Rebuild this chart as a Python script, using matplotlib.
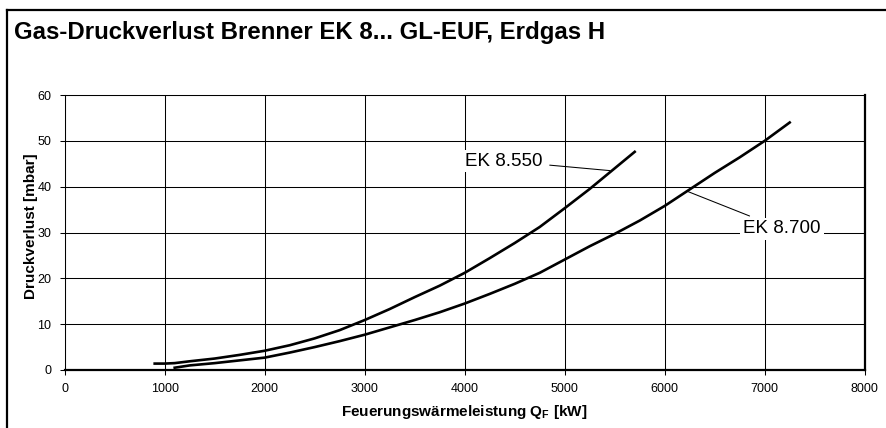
import matplotlib
matplotlib.use('Agg')
import matplotlib.pyplot as plt
from matplotlib.lines import Line2D

plt.rcParams['font.family'] = ['Liberation Sans', 'DejaVu Sans']

# Feuerungswärmeleistung [kW] and Druckverlust [mbar]
ek550_q = [900, 1000, 1100, 1250, 1500, 1750, 2000, 2250, 2500, 2750, 3000, 3250,
           3500, 3750, 4000, 4250, 4500, 4750, 5000, 5250, 5500, 5700]
ek550_dp = [1.4, 1.4, 1.5, 1.9, 2.5, 3.3, 4.2, 5.4, 6.9, 8.7, 10.9, 13.3,
            15.9, 18.4, 21.2, 24.4, 27.7, 31.2, 35.3, 39.5, 44.0, 47.6]

ek700_q = [1100, 1250, 1500, 1750, 2000, 2250, 2500, 2750, 3000, 3250, 3500, 3750,
           4000, 4250, 4500, 4750, 5000, 5250, 5500, 5750, 6000, 6250, 6500,
           6750, 7000, 7250]
ek700_dp = [0.5, 1.0, 1.5, 2.1, 2.7, 3.8, 5.0, 6.3, 7.7, 9.3, 10.9, 12.6,
            14.5, 16.6, 18.8, 21.2, 24.1, 27.0, 29.7, 32.6, 35.8, 39.4, 43.0,
            46.4, 50.0, 54.0]

x_ticks = [0, 1000, 2000, 3000, 4000, 5000, 6000, 7000, 8000]
y_ticks = [0, 10, 20, 30, 40, 50, 60]

W, H = 887, 428
fig = plt.figure(figsize=(W / 100, H / 100), dpi=100)
ax = fig.add_axes([64.7 / W, 1 - 370 / H, 800 / W, 275 / H])

ax.plot(ek550_q, ek550_dp, color='black', lw=1.9, zorder=3)
ax.plot(ek700_q, ek700_dp, color='black', lw=1.9, zorder=3)

ax.set_xlim(0, 8000)
ax.set_ylim(0, 60)
ax.set_xticks(x_ticks)
ax.set_yticks(y_ticks)
ax.grid(True, color='black', lw=0.75)
ax.set_axisbelow(True)
ax.tick_params(direction='out', length=3.5, width=0.75, labelsize=9, pad=6)

for side in ['left', 'top']:
    ax.spines[side].set_linewidth(0.75)
for side in ['right', 'bottom']:
    ax.spines[side].set_linewidth(1.6)

# curve labels with leader lines
box = dict(boxstyle='square,pad=0.15', fc='white', ec='none')
ax.annotate('EK 8.550', xy=(5453, 43.5), xytext=(4393, 45.6),
            ha='center', va='center', fontsize=13.5, bbox=box, zorder=4,
            arrowprops=dict(arrowstyle='-', color='black', lw=0.75,
                            shrinkA=3, shrinkB=0))
ax.annotate('EK 8.700', xy=(6236, 38.9), xytext=(7173, 30.8),
            ha='center', va='center', fontsize=13.5, bbox=box, zorder=4,
            arrowprops=dict(arrowstyle='-', color='black', lw=0.75,
                            shrinkA=3, shrinkB=0))

fig.text(31.5 / W, 1 - 226 / H, 'Druckverlust [mbar]', rotation=90,
         ha='center', va='center', fontsize=11, fontweight='bold')
fig.text(464 / W, 1 - 412 / H, 'Feuerungswärmeleistung Q$_\\mathregular{F}$ [kW]',
         ha='center', va='center', fontsize=11, fontweight='bold')
fig.text(14 / W, 1 - 33 / H, 'Gas-Druckverlust Brenner EK 8... GL-EUF, Erdgas H',
         ha='left', va='center', fontsize=17.3, fontweight='bold')

# outer frame (top and left edge)
fig.add_artist(Line2D([7 / W, 1.0], [1 - 10 / H, 1 - 10 / H], color='black', lw=1.6))
fig.add_artist(Line2D([7 / W, 7 / W], [0, 1 - 10 / H], color='black', lw=1.6))

fig.savefig('out.png', dpi=100)
